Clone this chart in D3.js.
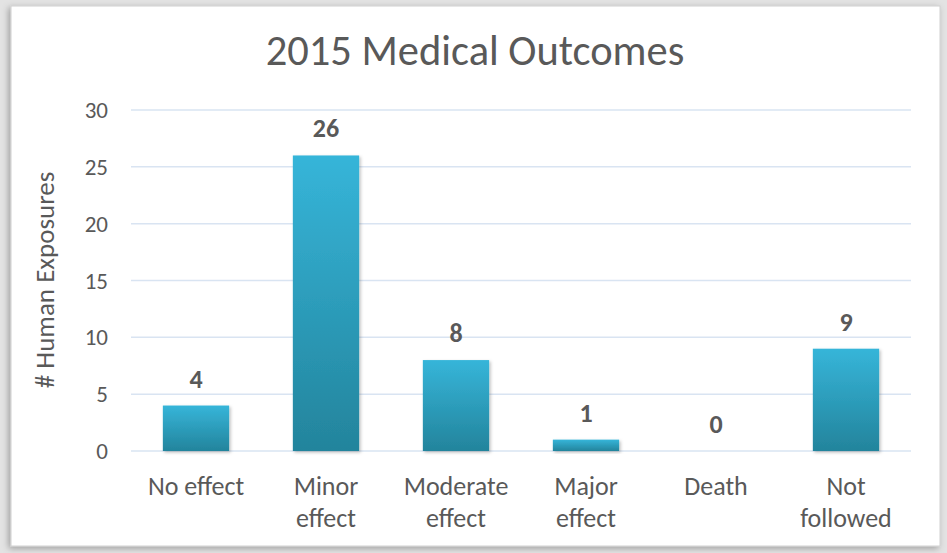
<!DOCTYPE html>
<html>
<head>
<meta charset="utf-8">
<script src="https://cdn.jsdelivr.net/npm/d3@7"></script>
<style>
  html, body { margin: 0; padding: 0; background: #e3e3e3; }
  svg { display: block; }
  text { font-family: Carlito, Calibri, "Open Sans", sans-serif; }
</style>
</head>
<body>
<svg id="chart" width="947" height="553"></svg>
<script>
// data
var categories = [["No effect"], ["Minor", "effect"], ["Moderate", "effect"], ["Major", "effect"], ["Death"], ["Not", "followed"]];
var exposures = [4, 26, 8, 1, 0, 9];
var yTicks = [0, 5, 10, 15, 20, 25, 30];

var svg = d3.select("#chart");
var W = 947, H = 553;
var margin = {left: 131, right: 36, top: 110, bottom: 102};
var textColor = "#595959";

// gradients / shadow
var defs = svg.append("defs");
var grad = defs.append("linearGradient").attr("id", "barGrad")
    .attr("x1", 0).attr("y1", 0).attr("x2", 0).attr("y2", 1);
grad.append("stop").attr("offset", "0%").attr("stop-color", "#36b5d9");
grad.append("stop").attr("offset", "100%").attr("stop-color", "#23849c");

var sh = defs.append("filter").attr("id", "shadow")
    .attr("x", "-20%").attr("y", "-20%").attr("width", "140%").attr("height", "140%");
sh.append("feDropShadow").attr("dx", 1.5).attr("dy", 1.5).attr("stdDeviation", 1.5)
    .attr("flood-color", "#000").attr("flood-opacity", 0.25);

var pshadow = defs.append("filter").attr("id", "pshadow")
    .attr("x", "-5%").attr("y", "-5%").attr("width", "110%").attr("height", "110%");
pshadow.append("feDropShadow").attr("dx", -2).attr("dy", 2).attr("stdDeviation", 3)
    .attr("flood-color", "#000").attr("flood-opacity", 0.3);

// white chart panel
svg.append("rect")
    .attr("x", 11).attr("y", 6).attr("width", 929).attr("height", 540)
    .attr("fill", "#fff").attr("stroke", "#d0d0d0")
    .attr("filter", "url(#pshadow)");

var x = d3.scaleBand()
    .domain(d3.range(categories.length))
    .range([margin.left, W - margin.right])
    .paddingInner(0.49).paddingOuter(0.245);

var y = d3.scaleLinear()
    .domain([0, 30])
    .range([H - margin.bottom, margin.top]);

// gridlines
svg.append("g").selectAll("line").data(yTicks).join("line")
    .attr("x1", margin.left).attr("x2", W - margin.right)
    .attr("y1", function(d) { return y(d); }).attr("y2", function(d) { return y(d); })
    .attr("stroke", "#d9e4f2").attr("stroke-width", 1.5);

// y axis labels
var yAxis = d3.axisLeft(y).tickValues(yTicks).tickSize(0).tickPadding(0);
var gy = svg.append("g").attr("transform", "translate(" + (margin.left - 23) + ",0)").call(yAxis);
gy.select(".domain").remove();
gy.selectAll("text").attr("font-size", 23).attr("fill", textColor).attr("dy", "0.33em")
    .style("font-family", "Carlito, Calibri, 'Open Sans', sans-serif");

// bars
svg.append("g").selectAll("rect").data(exposures).join("rect")
    .attr("x", function(d, i) { return x(i); })
    .attr("y", function(d) { return y(d); })
    .attr("width", x.bandwidth())
    .attr("height", function(d) { return y(0) - y(d); })
    .attr("fill", "url(#barGrad)")
    .attr("filter", "url(#shadow)");

// value labels
svg.append("g").selectAll("text").data(exposures).join("text")
    .attr("x", function(d, i) { return x(i) + x.bandwidth() / 2; })
    .attr("y", function(d) { return y(d) - 18; })
    .attr("text-anchor", "middle")
    .attr("font-size", 26).attr("font-weight", "bold").attr("fill", textColor)
    .text(function(d) { return d; });

// category labels
var cat = svg.append("g").selectAll("text").data(categories).join("text")
    .attr("x", function(d, i) { return x(i) + x.bandwidth() / 2; })
    .attr("y", 495)
    .attr("text-anchor", "middle")
    .attr("font-size", 26).attr("fill", textColor);
cat.selectAll("tspan").data(function(d) { return d; }).join("tspan")
    .attr("x", function() { return d3.select(this.parentNode).attr("x"); })
    .attr("dy", function(d, i) { return i === 0 ? 0 : 32; })
    .text(function(d) { return d; });

// y axis title
svg.append("text")
    .attr("transform", "translate(54,280) rotate(-90)")
    .attr("text-anchor", "middle")
    .attr("font-size", 27).attr("fill", textColor)
    .text("# Human Exposures");

// title
svg.append("text")
    .attr("x", 475).attr("y", 65)
    .attr("text-anchor", "middle")
    .attr("font-size", 42.5).attr("fill", textColor)
    .text("2015 Medical Outcomes");
</script>
</body>
</html>
